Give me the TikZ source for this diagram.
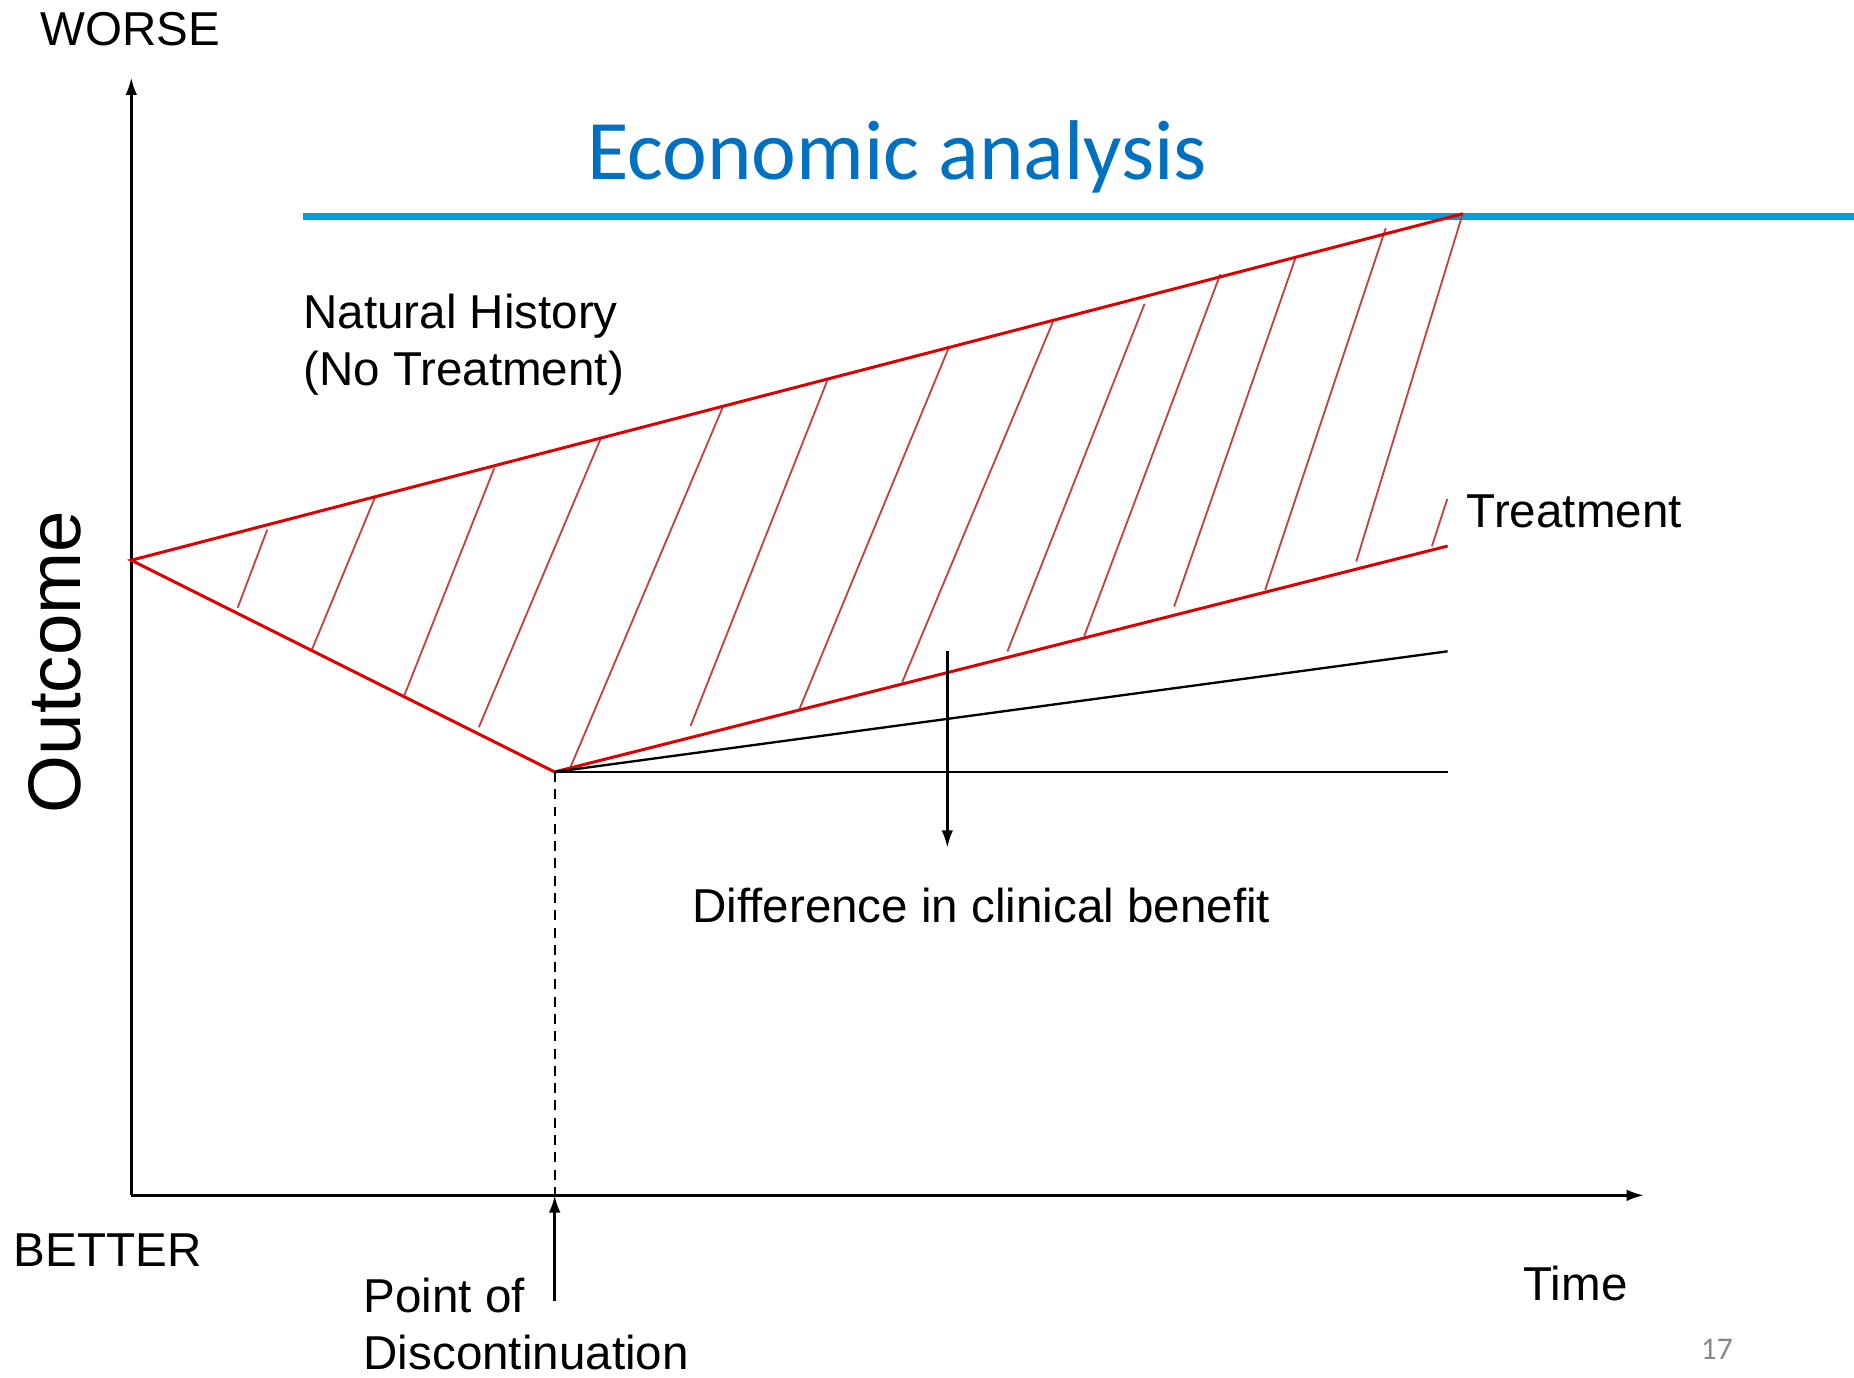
\documentclass[tikz,border=0pt]{standalone}
\usepackage{fontspec}
\setmainfont{Liberation Sans}
\newfontfamily\calibri{Carlito}
\usetikzlibrary{arrows.meta}

\definecolor{nhred}{RGB}{222,0,0}
\definecolor{hatchred}{RGB}{198,64,64}
\definecolor{rulecyan}{RGB}{0,160,220}
\definecolor{titleblue}{RGB}{0,112,192}
\definecolor{pagegray}{RGB}{137,137,137}

\tikzset{
	axis/.style={line width=0.75pt, -{Latex[length=5.2pt,width=3.5pt]}},
	curve/.style={line width=0.9pt, nhred},
	hatch/.style={line width=0.55pt, hatchred},
	trend/.style={line width=0.7pt, black},
	lbl/.style={font=\fontsize{14.3}{17.2}\selectfont, inner sep=0pt},
}

\begin{document}
\begin{tikzpicture}[scale=1.25]
		\useasboundingbox (0,0) rectangle (15.68,11.65);
		% axes
		\coordinate (origin) at (1.11,1.54);
		\coordinate (ytop) at (1.11,10.99);
		\coordinate (xend) at (13.90,1.54);
		\draw[axis] (origin) -- (ytop);
		\draw[axis] (origin) -- (xend);
		\node[lbl] (worse) at (1.10,11.40) {WORSE};
		\node[lbl] (better) at (0.91,1.075) {BETTER};
		\node[lbl, font=\fontsize{22.4}{26}\selectfont, rotate=90] (outcome) at (0.46,6.05) {Outcome};
		\node[lbl, anchor=base west] (time) at (12.88,0.65) {Time};
		% title and rule
		\node[lbl, anchor=base west, font=\calibri\fontsize{25.5}{30}\selectfont, text=titleblue] (title) at (4.96,10.13) {Economic analysis};
		\draw[line width=2pt, rulecyan] (2.56,9.82) -- (15.68,9.82);
		% natural history and treatment
		\coordinate (start) at (1.11,6.91);
		\coordinate (stop) at (4.69,5.12);
		\coordinate (nhend) at (12.37,9.84);
		\coordinate (trend) at (12.24,7.03);
		\coordinate (midend) at (12.24,6.14);
		\coordinate (flatend) at (12.24,5.12);
		\draw[hatch] (2.26,7.17) -- (2.01,6.51) (3.17,7.44) -- (2.64,6.16)
			(4.18,7.69) -- (3.42,5.77) (5.08,7.94) -- (4.05,5.50)
			(6.11,8.20) -- (4.82,5.15) (7.00,8.44) -- (5.84,5.51)
			(8.02,8.70) -- (6.76,5.65) (8.91,8.94) -- (7.63,5.88)
			(9.68,9.08) -- (8.52,6.14) (10.32,9.33) -- (9.17,6.27)
			(10.96,9.48) -- (9.93,6.52) (11.72,9.72) -- (10.70,6.66)
			(12.37,9.84) -- (11.47,6.90) (12.24,7.43) -- (12.11,7.03);
		\draw[curve] (stop) -- (start) -- (nhend);
		\draw[curve] (stop) -- (trend);
		\draw[trend] (stop) -- (midend);
		\draw[trend] (stop) -- (flatend);
		\node[lbl, anchor=base west, align=left] (nhist) at (2.56,8.39) {Natural History\\(No Treatment)};
		\node[lbl, anchor=base west] (treat) at (12.40,7.19) {Treatment};
		% benefit gap
		\coordinate (gaptop) at (8.01,6.14);
		\coordinate (gapend) at (8.01,4.48);
		\draw[axis] (gaptop) -- (gapend);
		\node[lbl, anchor=base west] (diff) at (5.85,3.85) {Difference in clinical benefit};
		% discontinuation
		\coordinate (stopaxis) at (4.69,1.54);
		\coordinate (stopfoot) at (4.69,0.65);
		\draw[trend, dash pattern=on 3pt off 2.2pt] (stop) -- (stopaxis);
		\draw[axis] (stopfoot) -- (stopaxis);
		\node[lbl, anchor=base west, align=left] (disc) at (3.07,0.07) {Point of\\Discontinuation};
		\node[lbl, anchor=base west, font=\calibri\fontsize{9.5}{11}\selectfont, text=pagegray] (pageno) at (14.38,0.15) {17};
	\end{tikzpicture}
\end{document}
